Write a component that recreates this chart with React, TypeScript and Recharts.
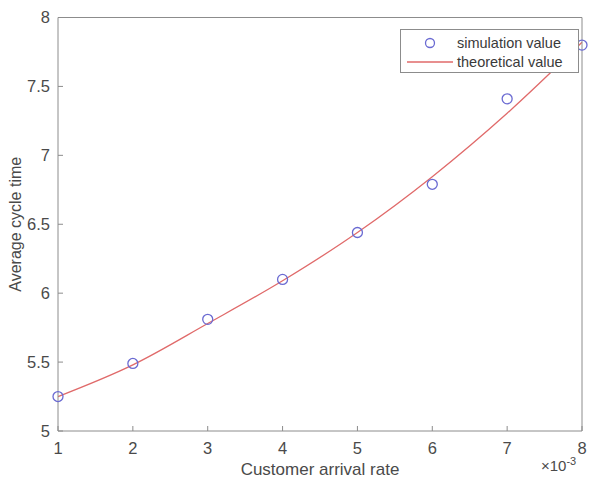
import {
  ComposedChart,
  Line,
  Scatter,
  XAxis,
  YAxis,
  Legend,
  Label,
} from "recharts";

// arrival rate (x 10^-3)
const rates = [1, 2, 3, 4, 5, 6, 7, 8];
const simulationValues = [5.25, 5.49, 5.81, 6.1, 6.44, 6.79, 7.41, 7.8];
const theoreticalValues = [5.25, 5.48, 5.78, 6.09, 6.44, 6.845, 7.305, 7.82];
const xTicks = [1, 2, 3, 4, 5, 6, 7, 8];
const yTicks = [5, 5.5, 6, 6.5, 7, 7.5, 8];
const seriesNames = ["simulation value", "theoretical value"];

const simData = rates.map((x, i) => ({ x, y: simulationValues[i] }));
const theoData = rates.map((x, i) => ({ x, y: theoreticalValues[i] }));

const FONT = '"Liberation Sans", Arial, sans-serif';
const AXIS = "#8c8c8c";
const TEXT = "#4a4a4a";
const BLUE = "#6a6ad2";
const RED = "#e06a6a";

const LegendBox = () => (
  <div
    style={{
      width: 177,
      height: 42,
      border: `1px solid ${AXIS}`,
      background: "#fff",
      fontFamily: FONT,
      fontSize: 14.5,
      color: "#3a3a3a",
    }}
  >
    <div style={{ display: "flex", alignItems: "center", height: 19, marginTop: 3 }}>
      <svg width={56} height={19} style={{ flexShrink: 0 }}>
        <circle cx={29} cy={10} r={4.5} fill="none" stroke={BLUE} strokeWidth={1.3} />
      </svg>
      <span style={{ whiteSpace: "nowrap" }}>{seriesNames[0]}</span>
    </div>
    <div style={{ display: "flex", alignItems: "center", height: 19 }}>
      <svg width={56} height={19} style={{ flexShrink: 0 }}>
        <line x1={6} y1={10} x2={52} y2={10} stroke={RED} strokeWidth={1.3} />
      </svg>
      <span style={{ whiteSpace: "nowrap" }}>{seriesNames[1]}</span>
    </div>
  </div>
);

const Circle = (props: any) => (
  <circle cx={props.cx} cy={props.cy} r={5} fill="none" stroke={BLUE} strokeWidth={1.3} />
);

export default function App() {
  return (
    <div style={{ position: "absolute", left: 0, top: 0, width: 589, height: 479 }}>
      <ComposedChart
        width={589}
        height={479}
        margin={{ top: 16.5, right: 6, bottom: 0, left: 12 }}
        style={{ fontFamily: FONT }}
      >
        <XAxis
          xAxisId="top"
          orientation="top"
          type="number"
          dataKey="x"
          domain={[1, 8]}
          ticks={xTicks}
          height={1}
          stroke={AXIS}
          tickSize={-5}
          tickFormatter={() => ""}
        />
        <YAxis
          yAxisId="right"
          orientation="right"
          type="number"
          domain={[5, 8]}
          ticks={yTicks}
          width={1}
          stroke={AXIS}
          tickSize={-5}
          tickFormatter={() => ""}
        />
        <XAxis
          type="number"
          dataKey="x"
          domain={[1, 8]}
          ticks={xTicks}
          height={48}
          stroke={AXIS}
          tickSize={-5}
          tickMargin={16}
          tick={{ fill: TEXT, fontSize: 16.5 }}
        >
          <Label
            value="Customer arrival rate"
            position="insideBottom"
            offset={4}
            style={{ fill: TEXT, fontSize: 17 }}
          />
          <Label
            position="insideBottomRight"
            content={(p: any) => {
              const vb = p.viewBox;
              return (
                <text x={vb.x + vb.width - 41} y={vb.y + 40} fill={TEXT} fontSize={15}>
                  ×10
                  <tspan dy={-6} fontSize={11}>-3</tspan>
                </text>
              );
            }}
          />
        </XAxis>
        <YAxis
          type="number"
          domain={[5, 8]}
          ticks={yTicks}
          width={46}
          stroke={AXIS}
          tickSize={-5}
          tickMargin={13}
          tick={{ fill: TEXT, fontSize: 16.5 }}
        >
          <Label
            value="Average cycle time"
            angle={-90}
            position="insideLeft"
            offset={3}
            style={{ textAnchor: "middle", fill: TEXT, fontSize: 16 }}
          />
        </YAxis>
        <Legend
          layout="vertical"
          verticalAlign="middle"
          align="center"
          content={() => <LegendBox />}
          wrapperStyle={{ position: "absolute", top: 29, left: 400, width: 179 }}
        />
        <Line
          data={theoData}
          dataKey="y"
          type="monotone"
          stroke={RED}
          strokeWidth={1.3}
          dot={false}
          isAnimationActive={false}
        />
        <Scatter
          data={simData}
          dataKey="y"
          shape={<Circle />}
          isAnimationActive={false}
        />
      </ComposedChart>
    </div>
  );
}
